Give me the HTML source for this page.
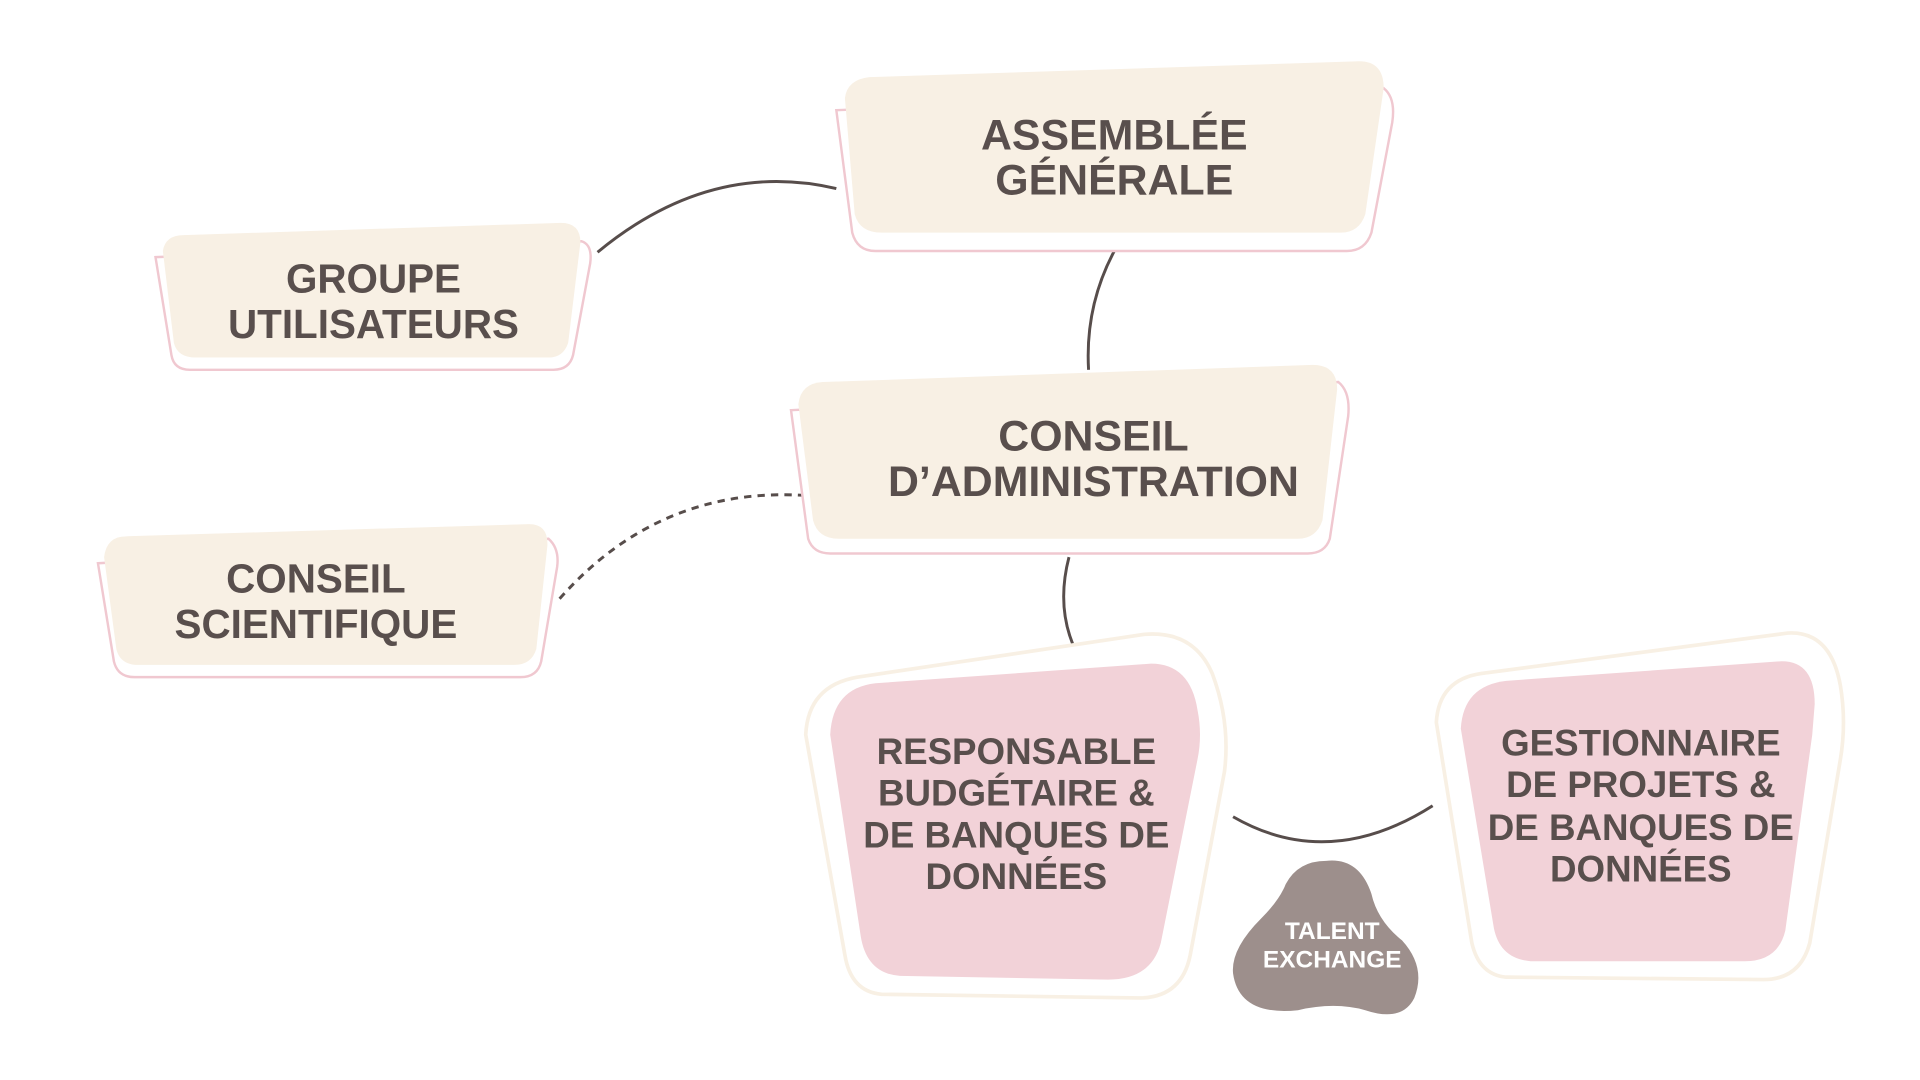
<!DOCTYPE html>
<html><head><meta charset="utf-8"><style>
html,body{margin:0;padding:0;background:#fff;}
svg{display:block;}
text{font-family:"Liberation Sans",sans-serif;font-weight:bold;fill:#594f4d;text-anchor:middle;}
</style></head><body>
<svg width="1920" height="1080" viewBox="0 0 1568 882" preserveAspectRatio="none">
<g fill="none" stroke="#574d4b" stroke-width="2.4">
<path d="M488,206 Q580,130 683,154"/>
<path d="M910,205 Q886,250 889,302"/>
<path d="M457,489 Q540,395 663,405" stroke-dasharray="6,5"/>
<path d="M873,455 Q860,505 886,545"/>
<path d="M1007,667 Q1085,712 1170,658"/>
</g>
<!-- AG -->
<path d="M683,90 L1130,72 Q1140,80 1137,100 L1120,190 Q1115,205 1100,205 L715,205 Q700,205 696,190 Z" fill="#fff" stroke="#f0c8d0" stroke-width="2"/>
<path d="M690,80 Q692,65 710,63 L1110,50 Q1130,50 1130,72 L1115,175 Q1110,190 1095,190 L720,190 Q702,190 698,175 Z" fill="#f8f0e4"/>
<text x="910" y="122" font-size="35">ASSEMBLÉE</text>
<text x="910" y="159" font-size="35">GÉNÉRALE</text>
<!-- GU -->
<path d="M127,210 L475,197 Q484,200 482,215 L468,290 Q465,302 452,302 L155,302 Q142,302 140,290 Z" fill="#fff" stroke="#f0c8d0" stroke-width="2"/>
<path d="M133,205 Q135,192 150,192 L458,182 Q474,182 474,198 L464,280 Q460,292 448,292 L160,292 Q145,292 142,280 Z" fill="#f8f0e4"/>
<text x="305" y="239" font-size="33">GROUPE</text>
<text x="305" y="276" font-size="33">UTILISATEURS</text>
<!-- CA -->
<path d="M646,335 L1093,312 Q1103,320 1101,340 L1086,440 Q1082,452 1068,452 L678,452 Q664,452 660,440 Z" fill="#fff" stroke="#f0c8d0" stroke-width="2"/>
<path d="M652,330 Q654,313 672,312 L1072,298 Q1092,298 1092,318 L1080,425 Q1075,440 1060,440 L685,440 Q668,440 664,425 Z" fill="#f8f0e4"/>
<text x="893" y="368" font-size="35">CONSEIL</text>
<text x="893" y="405" font-size="35">D’ADMINISTRATION</text>
<!-- CS -->
<path d="M80,460 L448,440 Q457,448 455,463 L442,540 Q439,553 425,553 L110,553 Q96,553 93,540 Z" fill="#fff" stroke="#f0c8d0" stroke-width="2"/>
<path d="M85,455 Q87,438 103,438 L432,428 Q448,428 447,446 L438,530 Q434,543 420,543 L113,543 Q98,543 95,530 Z" fill="#f8f0e4"/>
<text x="258" y="484" font-size="33">CONSEIL</text>
<text x="258" y="521" font-size="33">SCIENTIFIQUE</text>
<!-- Responsable -->
<path d="M658,600 Q660,560 700,553 L935,518 Q975,515 990,550 Q1005,590 1000,630 L972,780 Q965,815 930,815 L720,812 Q695,810 690,780 Z" fill="#fff" stroke="#f8f0e4" stroke-width="3"/>
<path d="M678,600 Q680,562 715,558 L940,542 Q972,542 978,580 Q982,600 978,620 L948,770 Q940,800 905,800 L735,797 Q708,795 703,765 Z" fill="#f2d2d8"/>
<text x="830" y="624" font-size="30">RESPONSABLE</text>
<text x="830" y="658" font-size="30">BUDGÉTAIRE &amp;</text>
<text x="830" y="692" font-size="30">DE BANQUES DE</text>
<text x="830" y="726" font-size="30">DONNÉES</text>
<!-- Gestionnaire -->
<path d="M1173,590 Q1175,555 1210,550 L1460,517 Q1495,515 1503,560 Q1508,590 1503,620 L1478,770 Q1470,800 1440,800 L1230,798 Q1208,796 1202,770 Z" fill="#fff" stroke="#f8f0e4" stroke-width="3"/>
<path d="M1193,595 Q1195,560 1230,556 L1455,540 Q1482,540 1482,575 L1480,600 L1458,760 Q1452,785 1425,785 L1250,785 Q1225,783 1220,758 Z" fill="#f2d2d8"/>
<text x="1340" y="617" font-size="30">GESTIONNAIRE</text>
<text x="1340" y="651" font-size="30">DE PROJETS &amp;</text>
<text x="1340" y="686" font-size="30">DE BANQUES DE</text>
<text x="1340" y="720" font-size="30">DONNÉES</text>
<!-- Talent blob -->
<path d="M1083,703 Q1110,700 1120,730 Q1125,752 1145,768 Q1165,790 1155,815 Q1145,835 1115,825 Q1090,818 1060,825 Q1012,830 1007,795 Q1005,775 1030,750 Q1045,735 1050,722 Q1060,703 1083,703 Z" fill="#9d8f8c"/>
<text x="1088" y="767" font-size="20" style="fill:#fff">TALENT</text>
<text x="1088" y="790" font-size="20" style="fill:#fff">EXCHANGE</text>
</svg>
</body></html>
